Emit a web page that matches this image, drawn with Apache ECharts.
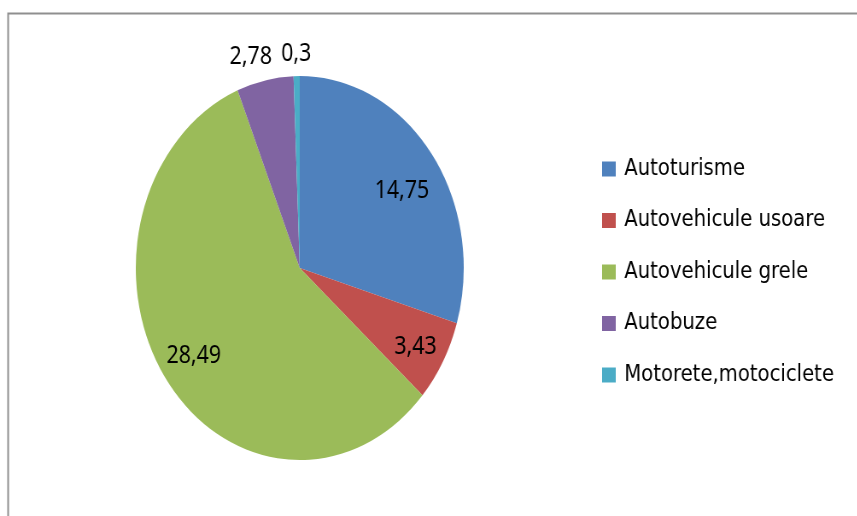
<!DOCTYPE html>
<html>
<head>
<meta charset="utf-8">
<title>Autovehicule</title>
<script src="https://cdn.jsdelivr.net/npm/echarts@6/dist/echarts.min.js"></script>
<style>
  html, body { margin: 0; padding: 0; background: #fff; overflow: hidden; }
  #wrap { width: 857px; height: 516px; overflow: hidden; position: relative; }
  /* pie in the reference is an ellipse (picture squeezed sideways), so squeeze the whole chart */
  #chart { width: 1004px; height: 516px; transform: scaleX(0.854); transform-origin: 0 0; }
</style>
</head>
<body>
<div id="wrap"><div id="chart"></div></div>
<script>
const categories = ['Autoturisme', 'Autovehicule usoare', 'Autovehicule grele', 'Autobuze', 'Motorete,motociclete'];
const values = [14.75, 3.43, 28.49, 2.78, 0.3];
const colors = ['#4F81BD', '#C0504D', '#9BBB59', '#8064A2', '#4BACC6'];
// label placement (Excel best-fit): share of the radius, and turn in degrees off the slice middle
const labelRadius = [0.725, 0.8, 0.777, 1.125, 1.1];
const labelTurn = [4, 1, 0, -3, 0];

const R = 192;
const total = values.reduce((a, b) => a + b, 0);

let acc = 0;
const pieData = values.map((v, i) => {
  const mid = (acc + v / 2) / total * Math.PI * 2; // clockwise from top
  acc += v;
  const want = mid + labelTurn[i] * Math.PI / 180;
  const d = labelRadius[i] * R;
  const half = 0.5 * R; // 'inside' labels start at r/2 on the slice middle
  return {
    name: categories[i],
    value: v,
    itemStyle: { color: colors[i] },
    label: {
      offset: [
        Math.sin(want) * d - Math.sin(mid) * half,
        -Math.cos(want) * d + Math.cos(mid) * half
      ]
    }
  };
});

const chart = echarts.init(document.getElementById('chart'), null, { renderer: 'canvas' });
chart.setOption({
  animation: false,
  graphic: [
    {
      type: 'rect',
      shape: { x: 9.5, y: 13.5, width: 2000, height: 1000 },
      style: { fill: 'none', stroke: '#8f8f8f', lineWidth: 2 },
      silent: true
    }
  ],
  legend: {
    orient: 'vertical',
    left: 705,
    top: 156,
    padding: 0,
    itemWidth: 16,
    itemHeight: 15,
    itemGap: 25.5,
    icon: 'rect',
    data: categories,
    textStyle: {
      fontFamily: 'DejaVu Sans',
      fontSize: 23,
      lineHeight: 26,
      color: '#000',
      padding: [0, 0, 0, 5]
    }
  },
  series: [
    {
      type: 'pie',
      center: [351, 268],
      radius: R,
      startAngle: 90,
      clockwise: true,
      avoidLabelOverlap: false,
      label: {
        show: true,
        position: 'inside',
        fontFamily: 'Noto Sans',
        fontSize: 25,
        color: '#000',
        formatter: (p) => String(p.value).replace('.', ',')
      },
      labelLine: { show: false },
      emphasis: { disabled: true },
      data: pieData
    }
  ]
});
</script>
</body>
</html>
